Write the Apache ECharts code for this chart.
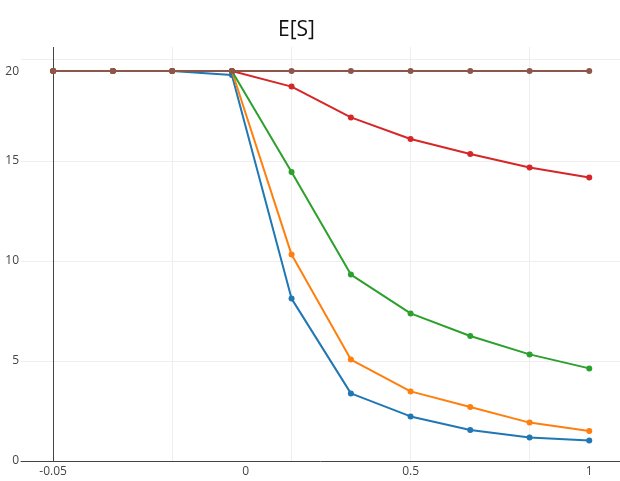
<!DOCTYPE html>
<html>
<head>
<meta charset="utf-8">
<script src="https://cdn.jsdelivr.net/npm/echarts@6/dist/echarts.min.js"></script>
<style>
  html, body { margin: 0; padding: 0; background: #fff; }
  #chart { width: 620px; height: 481px; }
</style>
</head>
<body>
<div id="chart"></div>
<script>
// x positions of the points (evenly spaced)
const xs = [-0.5, -0.333, -0.167, 0, 0.167, 0.333, 0.5, 0.667, 0.833, 1]

const blue = [19.5, 19.5, 19.5, 19.3, 8.12, 3.38, 2.23, 1.55, 1.18, 1.03]
const orange = [19.5, 19.5, 19.5, 19.5, 10.32, 5.07, 3.48, 2.7, 1.92, 1.5]
const green = [19.5, 19.5, 19.5, 19.5, 14.45, 9.32, 7.38, 6.25, 5.33, 4.63]
const red = [19.5, 19.5, 19.5, 19.5, 18.72, 17.18, 16.1, 15.35, 14.68, 14.17]
const brown = [19.5, 19.5, 19.5, 19.5, 19.5, 19.5, 19.5, 19.5, 19.5, 19.5]

// tick labels as they appear, and where they sit
const xLabelPos = [-0.5, 0.039, 0.5, 1]
const xLabelText = ['-0.05', '0', '0.5', '1']
const xGridPos = [-0.167, 0.167, 0.5, 0.833]

const yLabelPos = [0, 5, 10, 15, 19.47]
const yLabelText = ['0', '5', '10', '15', '20']
const yGridPos = [0, 5, 10, 15, 20.1]

const colors = ['#1f77b4', '#ff7f0e', '#2ca02c', '#d62728', '#8c564b']
const seriesData = [blue, orange, green, red, brown]

const pick = (pos, text) => (v) => {
  let best = 0
  pos.forEach((p, i) => {
    if (Math.abs(p - v) < Math.abs(pos[best] - v)) best = i
  })
  return text[best]
}

const chart = echarts.init(document.getElementById('chart'))

const series = seriesData.map((d, i) => ({
  type: 'line',
  data: d.map((y, j) => [xs[j], y]),
  symbol: 'circle',
  symbolSize: 6,
  color: colors[i],
  lineStyle: { width: 2, color: colors[i] },
  itemStyle: { color: colors[i] },
  z: 3 + i,
  animation: false
}))

series[0].markLine = {
  silent: true,
  symbol: 'none',
  label: { show: false },
  lineStyle: { color: '#444', width: 1, type: 'solid' },
  data: [{ xAxis: -0.5 }],
  z: 1
}

chart.setOption({
  animation: false,
  title: {
    text: 'E[S]',
    left: 273,
    top: 15,
    textStyle: { fontFamily: 'Open Sans', fontSize: 21, fontWeight: 'normal', color: '#111' }
  },
  grid: { left: 21, right: 0, top: 47, bottom: 20, containLabel: false },
  xAxis: {
    type: 'value',
    min: -0.59,
    max: 1.086,
    axisLine: { show: true, lineStyle: { color: '#444', width: 1 } },
    axisTick: { show: false, customValues: xGridPos },
    splitLine: { show: true, lineStyle: { color: '#eee', width: 1 } },
    axisLabel: {
      customValues: xLabelPos,
      formatter: pick(xLabelPos, xLabelText),
      color: '#444',
      fontFamily: 'Open Sans',
      fontSize: 12,
      margin: 5
    }
  },
  yAxis: {
    type: 'value',
    min: 0,
    max: 20.7,
    axisLine: { show: false },
    axisTick: { show: false, customValues: yGridPos },
    splitLine: { show: true, lineStyle: { color: '#eee', width: 1 } },
    axisLabel: {
      customValues: yLabelPos,
      formatter: pick(yLabelPos, yLabelText),
      color: '#444',
      fontFamily: 'Open Sans',
      fontSize: 12,
      margin: 2
    }
  },
  series
})
</script>
</body>
</html>
